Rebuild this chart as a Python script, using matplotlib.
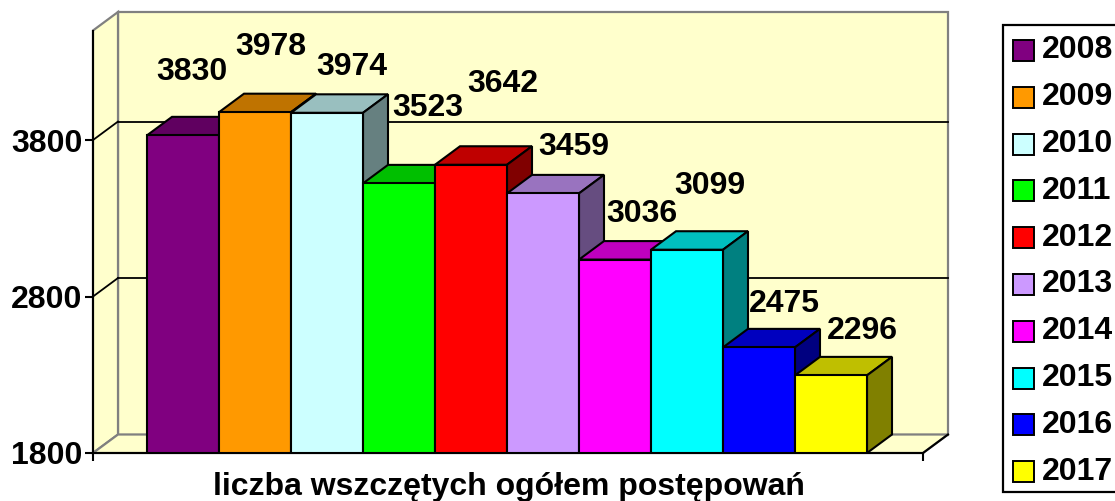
import matplotlib
matplotlib.use("Agg")
import matplotlib.pyplot as plt
from matplotlib.patches import Polygon, Rectangle
from matplotlib.colors import to_rgb

plt.rcParams['font.family'] = ['Liberation Sans', 'DejaVu Sans']
plt.rcParams['font.weight'] = 'bold'

# data
years = ["2008", "2009", "2010", "2011", "2012", "2013", "2014", "2015", "2016", "2017"]
values = [3830, 3978, 3974, 3523, 3642, 3459, 3036, 3099, 2475, 2296]
colors = ["#800080", "#FF9900", "#CCFFFF", "#00FF00", "#FF0000",
          "#CC99FF", "#FF00FF", "#00FFFF", "#0000FF", "#FFFF00"]
yticks = [1800, 2800, 3800]
title = "liczba wszczętych ogółem postępowań"

# label offsets in pixels (from front-top centre of each bar)
label_off = [(9, 63), (16, 65), (25, 46), (29, 75), (32, 81),
             (31, 46), (27, 46), (23, 64), (25, 43), (31, 44)]

FS = 23
W, H = 1115, 501
fig = plt.figure(figsize=(W / 100, H / 100), dpi=100)

# front box of the plot in pixels
px_l, px_r, px_b, px_t = 93, 923, 453, 30.5
ax = fig.add_axes([px_l / W, 1 - px_b / H, (px_r - px_l) / W, (px_b - px_t) / H])
ymin, ymax = 1800, 4500
bar_px = 72.0
xl = -(147 - px_l) / bar_px
xr = xl + (px_r - px_l) / bar_px
ax.set_xlim(xl, xr)
ax.set_ylim(ymin, ymax)
ax.patch.set_visible(False)

# depth of the 3d box, in data units
DX = 25 / bar_px
DY = 18.5 / ((px_b - px_t) / (ymax - ymin))

wall = "#FFFFCC"
edge_gray = "#808080"

# walls and floor
back = Polygon([(xl + DX, ymin + DY), (xr + DX, ymin + DY), (xr + DX, ymax + DY), (xl + DX, ymax + DY)],
               closed=True, facecolor=wall, edgecolor=edge_gray, lw=1.6, clip_on=False, zorder=0)
side = Polygon([(xl, ymin), (xl + DX, ymin + DY), (xl + DX, ymax + DY), (xl, ymax)],
               closed=True, facecolor=wall, edgecolor=edge_gray, lw=1.6, clip_on=False, zorder=0.5)
floor = Polygon([(xl, ymin), (xr, ymin), (xr + DX, ymin + DY), (xl + DX, ymin + DY)],
                closed=True, facecolor=wall, edgecolor=edge_gray, lw=1.6, clip_on=False, zorder=0.6)
for p in (back, side, floor):
    ax.add_patch(p)
ax.plot([xr, xr + DX], [ymin, ymin + DY], color="black", lw=1.5, clip_on=False, zorder=0.7)

# gridlines on the walls
for g in yticks[1:]:
    ax.plot([xl + DX, xr + DX], [g + DY, g + DY], color="black", lw=1.3, clip_on=False, zorder=1)
    ax.plot([xl, xl + DX], [g, g + DY], color="black", lw=1.3, clip_on=False, zorder=1)


def shade(c, f):
    r, g, b = to_rgb(c)
    return (r * f, g * f, b * f)


# 3d bars
for i, (v, c) in enumerate(zip(values, colors)):
    z = 3 + i * 0.1
    ax.bar(i, v - ymin, bottom=ymin, width=1, align="edge", color=c,
           edgecolor="black", lw=1.5, zorder=z + 0.02)
    top = Polygon([(i, v), (i + 1, v), (i + 1 + DX, v + DY), (i + DX, v + DY)],
                  closed=True, facecolor=shade(c, 0.75), edgecolor="black", lw=1.5,
                  clip_on=False, zorder=z)
    sd = Polygon([(i + 1, ymin), (i + 1 + DX, ymin + DY), (i + 1 + DX, v + DY), (i + 1, v)],
                 closed=True, facecolor=shade(c, 0.5), edgecolor="black", lw=1.5,
                 clip_on=False, zorder=z + 0.01)
    ax.add_patch(top)
    ax.add_patch(sd)
    ox, oy = label_off[i]
    ax.annotate(str(v), (i + 0.5, v), xytext=(ox, oy), textcoords="offset pixels",
                ha="center", va="center", fontsize=FS, fontweight="bold",
                annotation_clip=False, zorder=10)

# axes
for s in ("top", "right"):
    ax.spines[s].set_visible(False)
for s in ("left", "bottom"):
    ax.spines[s].set_linewidth(1.5)
    ax.spines[s].set_zorder(2)
ax.set_yticks(yticks)
ax.set_yticklabels([str(t) for t in yticks], fontsize=FS, fontweight="bold")
ax.set_xticks([xl, xr])
ax.set_xticklabels(["", ""])
ax.tick_params(axis="both", direction="out", length=5.8, width=1.5, pad=2)

fig.text(509 / W, 1 - 487 / H, title, ha="center", va="center", fontsize=FS, fontweight="bold")

# legend
fig.patches.append(Rectangle((1003 / W, 1 - 492 / H), 0.2, (492 - 25) / H,
                             transform=fig.transFigure, facecolor="white",
                             edgecolor="black", lw=1.6))
for k, (yr, c) in enumerate(zip(years, colors)):
    cy = 50.5 + k * 46.8
    fig.patches.append(Rectangle((1013 / W, 1 - (cy + 10.5) / H), 21 / W, 21 / H,
                                 transform=fig.transFigure, facecolor=c,
                                 edgecolor="black", lw=1.4))
    fig.text(1042 / W, 1 - cy / H, yr, ha="left", va="center", fontsize=FS, fontweight="bold")

fig.savefig("out.png", dpi=100)
